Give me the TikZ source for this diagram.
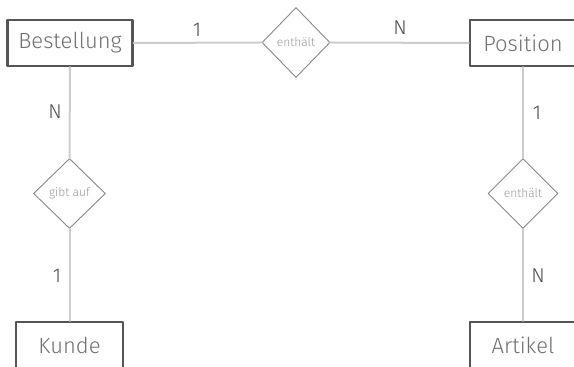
\documentclass[tikz,border=0pt]{standalone}
\usepackage{fontspec}
\setmainfont{Fira Sans}[UprightFont=* Light]
\usepackage{xcolor}
\usepackage{tikz}
\usetikzlibrary{shapes.geometric}
\definecolor{erFrame}{HTML}{555555}
\definecolor{erText}{HTML}{707070}
\definecolor{erLink}{HTML}{CCCCCC}
\definecolor{erRel}{HTML}{888888}
\definecolor{erRelText}{HTML}{999999}
\definecolor{erInk}{HTML}{4A4A4A}
\tikzset{
  er diagram/.style={x=0.5pt, y=-0.5pt, line cap=round, line join=round},
  er entity/.style={draw=erFrame, fill=white, line width=1.1pt, text=erText,
    font=\fontsize{11}{13}\selectfont, minimum height=23pt, inner sep=0pt},
  er relation/.style={diamond, draw=erRel, fill=white, line width=0.45pt,
    text=erRelText, font=\fontsize{6}{7}\selectfont, inner sep=0pt,
    minimum width=35pt, minimum height=35pt},
  er link/.style={draw=erLink, line width=1pt},
  er card/.style={text=erInk, font=\fontsize{10}{12}\selectfont}
}
\begin{document}
\begin{tikzpicture}[er diagram]
\useasboundingbox (0,0) rectangle (574,367);
\clip (0,0) rectangle (574,367);
% entities
\node[er entity, minimum width=62.5pt] (bestellung) at (70,43) {Bestellung};
\node[er entity, minimum width=53pt] (position) at (523,43) {Position};
\node[er entity, minimum width=53.5pt] (kunde) at (69.5,345) {Kunde};
\node[er entity, minimum width=53pt] (artikel) at (523,345) {Artikel};
% relations
\node[er relation, minimum width=34pt] (enthaelt) at (296,42.5) {enthält};
\node[er relation, minimum width=36pt] (gibtauf) at (69.5,193.5) {gibt auf};
\node[er relation] (enthaeltart) at (523,193.5) {enthält};
% connectors
\draw[er link] (bestellung.east) -- (enthaelt.west);
\draw[er link] (enthaelt.east) -- (position.west);
\draw[er link] (bestellung.south) -- (gibtauf.north);
\draw[er link] (gibtauf.south) -- (kunde.north);
\draw[er link] (position.south) -- (enthaeltart.north);
\draw[er link] (enthaeltart.south) -- (artikel.north);
% cardinalities
\node[er card] (c1) at (197,30) {1};
\node[er card] (c2) at (400,28) {N};
\node[er card] (c3) at (55,112) {N};
\node[er card] (c4) at (57,276) {1};
\node[er card] (c5) at (537,113) {1};
\node[er card] (c6) at (538,276) {N};
\end{tikzpicture}
\end{document}
